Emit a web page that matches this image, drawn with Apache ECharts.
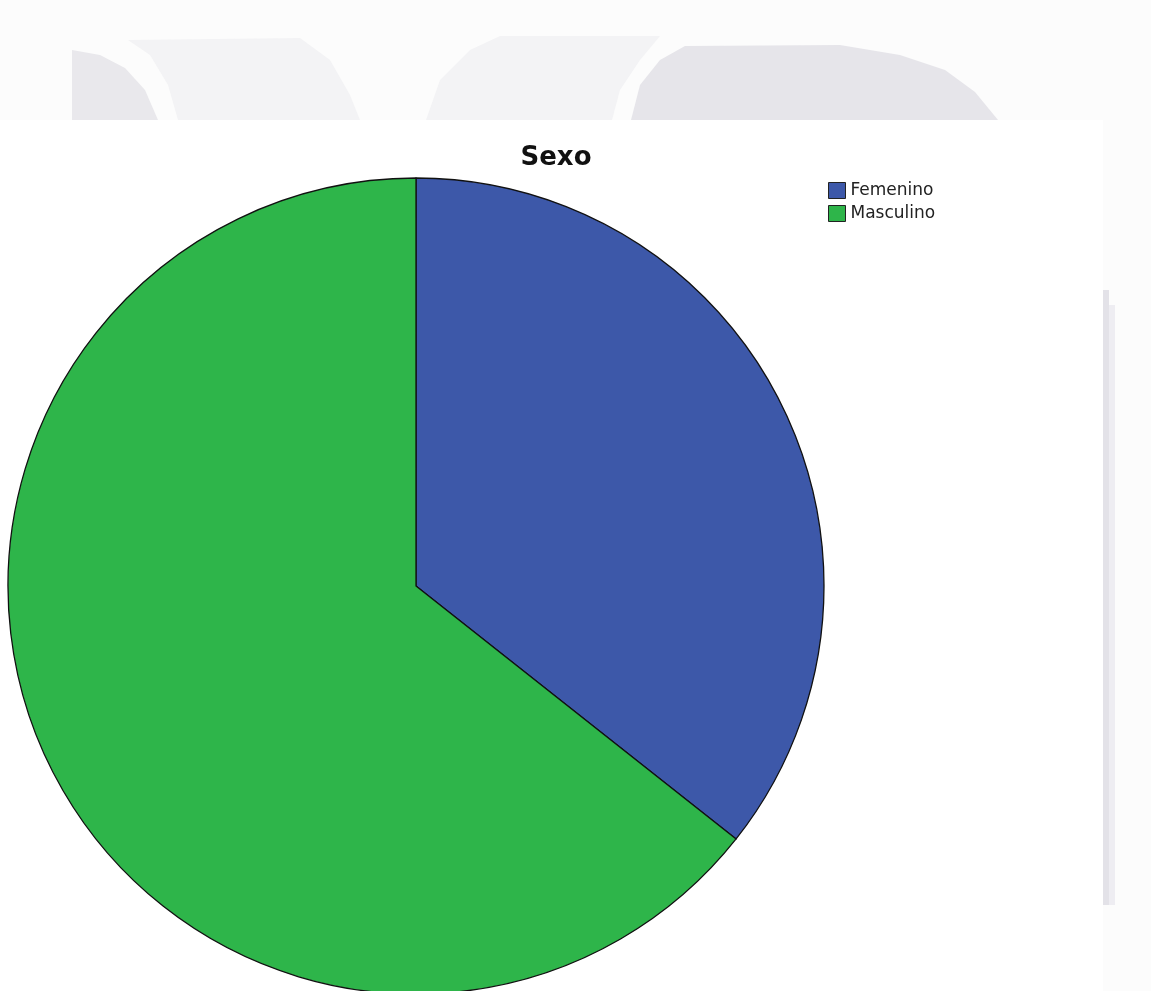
<!DOCTYPE html>
<html>
<head>
<meta charset="utf-8">
<script src="https://cdn.jsdelivr.net/npm/echarts@6/dist/echarts.min.js"></script>
<style>html,body{margin:0;padding:0;background:#fcfcfc;}#c{width:1151px;height:991px;}</style>
</head>
<body>
<div id="c"></div>
<script>
const categories = ["Femenino", "Masculino"];
const values = [36, 65];
const colors = ["#3d58a9", "#2eb54a"];
const titleText = "Sexo";

const chart = echarts.init(document.getElementById('c'), null, {renderer: 'canvas'});
chart.setOption({
  animation: false,
  backgroundColor: '#fcfcfc',
  graphic: [
    {type: 'rect', z: -10, shape: {x: 0, y: 120, width: 1103, height: 871}, style: {fill: '#ffffff'}},
    {type: 'rect', z: -10, shape: {x: 1103, y: 290, width: 6, height: 615}, style: {fill: '#e3e2e8'}},
    {type: 'rect', z: -10, shape: {x: 1109, y: 305, width: 6, height: 600}, style: {fill: '#eeedf2'}},
    {type: 'polygon', z: -10, shape: {points: [[72,50],[100,55],[125,68],[145,90],[158,120],[72,120]]}, style: {fill: '#e9e8ec'}},
    {type: 'polygon', z: -10, shape: {points: [[128,40],[300,38],[330,60],[350,95],[360,120],[178,120],[168,85],[150,55]]}, style: {fill: '#f3f3f5'}},
    {type: 'polygon', z: -10, shape: {points: [[440,80],[470,50],[500,36],[660,36],[640,60],[620,90],[612,120],[426,120]]}, style: {fill: '#f3f3f5'}},
    {type: 'polygon', z: -10, shape: {points: [[631,120],[640,85],[660,60],[685,46],[840,45],[900,55],[945,70],[975,92],[998,120]]}, style: {fill: '#e6e5ea'}}
  ],
  title: {
    text: titleText,
    left: 551, top: 140,
    textAlign: 'center',
    textStyle: {fontFamily: 'DejaVu Sans', fontWeight: 'bold', fontSize: 26, color: '#111'}
  },
  legend: {
    orient: 'vertical',
    left: 828, top: 182,
    padding: 0,
    itemWidth: 17, itemHeight: 16, itemGap: 6,
    icon: 'rect',
    itemStyle: {borderColor: '#222', borderWidth: 1},
    textStyle: {fontFamily: 'DejaVu Sans', fontSize: 17, color: '#222'},
    data: categories
  },
  series: [{
    type: 'pie',
    center: [416, 586],
    radius: 408,
    startAngle: 90,
    clockwise: true,
    label: {show: false},
    labelLine: {show: false},
    emphasis: {disabled: true},
    itemStyle: {borderColor: '#111', borderWidth: 1.3},
    data: categories.map((c, i) => ({name: c, value: values[i], itemStyle: {color: colors[i]}}))
  }]
});
</script>
</body>
</html>
